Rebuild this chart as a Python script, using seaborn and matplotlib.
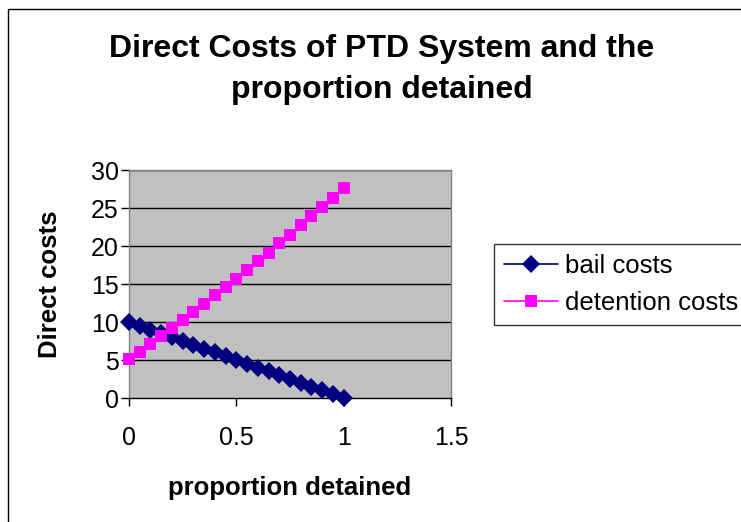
import matplotlib
matplotlib.use("Agg")
import matplotlib.pyplot as plt
import seaborn as sns
import pandas as pd
from matplotlib.patches import Rectangle

proportion = [0.0, 0.05, 0.10, 0.15, 0.20, 0.25, 0.30, 0.35, 0.40, 0.45, 0.50,
              0.55, 0.60, 0.65, 0.70, 0.75, 0.80, 0.85, 0.90, 0.95, 1.0]
bail_costs = [10.0, 9.5, 9.0, 8.5, 8.0, 7.5, 7.0, 6.5, 6.0, 5.5, 5.0,
              4.5, 4.0, 3.5, 3.0, 2.5, 2.0, 1.5, 1.0, 0.5, 0.0]
detention_costs = [5.1, 6.0, 7.1, 8.1, 9.2, 10.3, 11.3, 12.4, 13.5, 14.6, 15.7,
                   16.8, 18.0, 19.1, 20.4, 21.4, 22.7, 24.0, 25.1, 26.3, 27.6]
series_names = ["bail costs", "detention costs"]
x_ticks = [0, 0.5, 1, 1.5]
x_tick_labels = ["0", "0.5", "1", "1.5"]
y_ticks = [0, 5, 10, 15, 20, 25, 30]

df = pd.DataFrame({
    "proportion": proportion * 2,
    "cost": bail_costs + detention_costs,
    "series": [series_names[0]] * len(proportion) + [series_names[1]] * len(proportion),
})

sns.set_style("white")
plt.rcParams["font.family"] = ["Liberation Sans", "DejaVu Sans"]
plt.rcParams["text.color"] = "black"
plt.rcParams["axes.labelcolor"] = "black"
plt.rcParams["xtick.color"] = "black"
plt.rcParams["ytick.color"] = "black"

fig = plt.figure(figsize=(7.41, 5.22), dpi=100)
fig.patch.set_facecolor("white")
fig.patches.append(Rectangle((8 / 741, -0.1), 1.2, 1 - 9 / 522 + 0.1,
                             transform=fig.transFigure, fill=False,
                             edgecolor="black", linewidth=1.0, zorder=0))

ax = fig.add_axes([129 / 741, (522 - 398) / 522, (451 - 129) / 741, (398 - 170) / 522])
ax.set_facecolor("#C0C0C0")

palette = {series_names[0]: "#000080", series_names[1]: "#FF00FF"}
markers = {series_names[0]: "D", series_names[1]: "s"}
sns.lineplot(data=df, x="proportion", y="cost", hue="series", style="series",
             palette=palette, markers=markers, dashes=False, markersize=9,
             markeredgewidth=0, linewidth=1.2, ax=ax, legend=True, clip_on=False,
             zorder=3)

ax.set_xlim(0, 1.5)
ax.set_ylim(0, 30)
ax.set_xticks(x_ticks)
ax.set_xticklabels(x_tick_labels)
ax.set_yticks(y_ticks)
for y in y_ticks[1:]:
    ax.axhline(y, color="black", linewidth=1.0, zorder=1)

for s in ["top", "right", "left"]:
    ax.spines[s].set_color("#808080")
    ax.spines[s].set_linewidth(1.0)
ax.spines["bottom"].set_color("black")
ax.spines["bottom"].set_linewidth(1.0)

ax.tick_params(axis="x", direction="out", length=5.5, width=1, color="black",
               pad=15, labelsize=18)
ax.tick_params(axis="y", direction="out", length=5.5, width=1, color="black",
               pad=2, labelsize=18)
ax.tick_params(left=True, bottom=True)

ax.set_xlabel("proportion detained", fontsize=18.5, fontweight="bold", va="center")
ax.xaxis.set_label_coords(0.5, (398 - 488) / 228)
ax.set_ylabel("Direct costs", fontsize=18.5, fontweight="bold", va="center")
ax.yaxis.set_label_coords((50 - 129) / 322, 0.5)

fig.text(382 / 741, 1 - 49 / 522, "Direct Costs of PTD System and the",
         ha="center", va="center", fontsize=23, fontweight="bold")
fig.text(382 / 741, 1 - 90 / 522, "proportion detained",
         ha="center", va="center", fontsize=23, fontweight="bold")

handles, labels = ax.get_legend_handles_labels()
leg = fig.legend(handles, labels, loc="upper left",
                 bbox_to_anchor=(494 / 741, 1 - 244 / 522),
                 frameon=True, fancybox=False, fontsize=18.5,
                 handlelength=2.1, handletextpad=0.25, borderpad=0.4,
                 labelspacing=0.5, borderaxespad=0, markerscale=1.0)
leg.get_frame().set_edgecolor("black")
leg.get_frame().set_linewidth(1.0)
if ax.get_legend() is not None:
    ax.get_legend().remove()

fig.savefig("out.png", dpi=100)
